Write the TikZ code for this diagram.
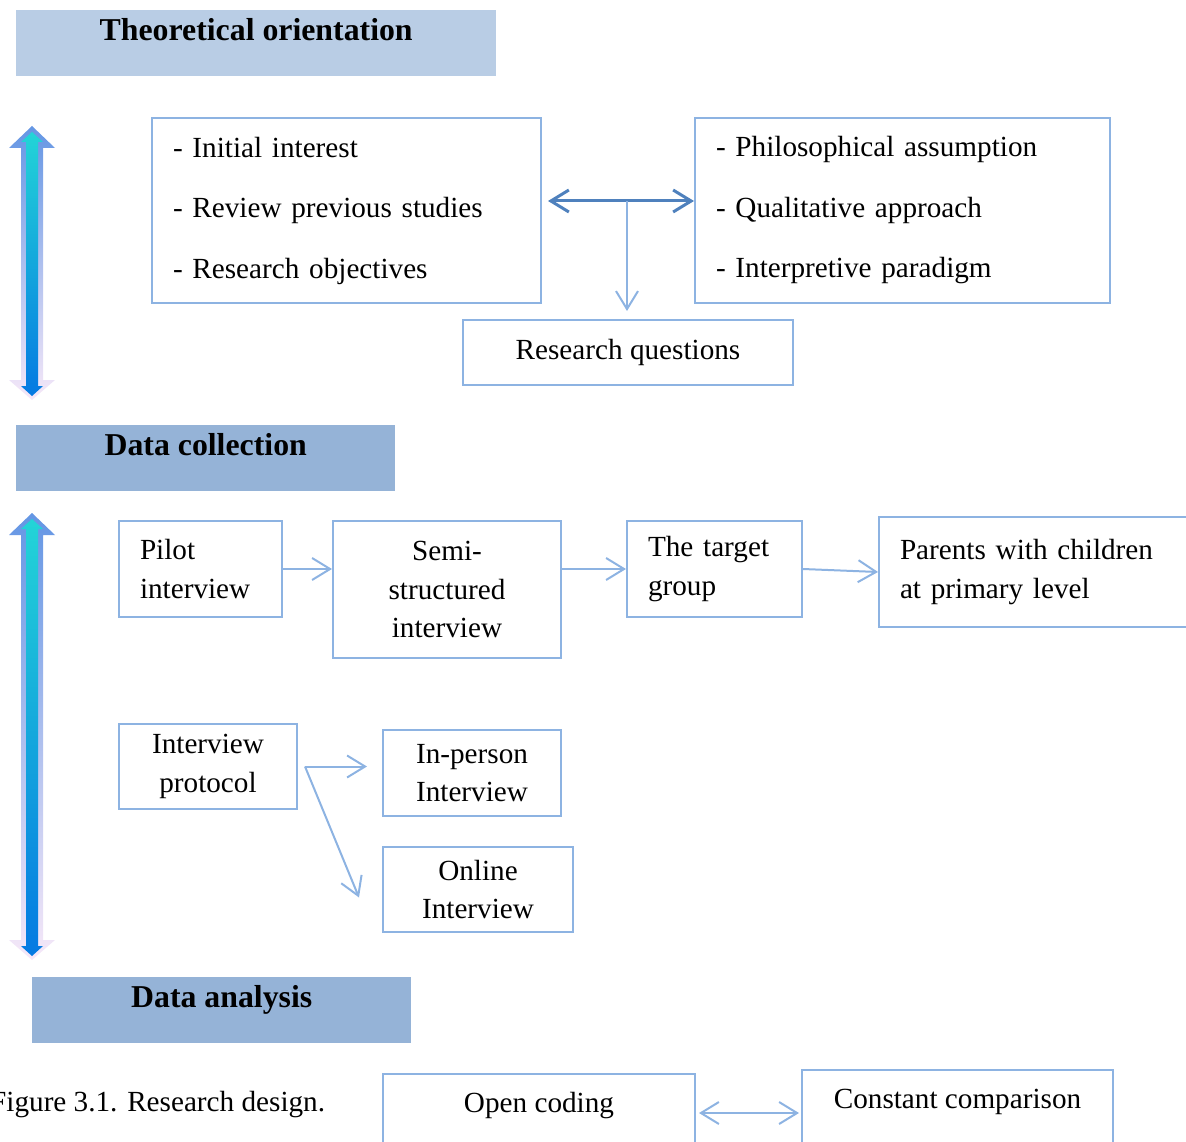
\documentclass[tikz,border=0pt]{standalone}
\usepackage{fontspec}
\setmainfont{Liberation Serif}
\usetikzlibrary{arrows.meta}
\definecolor{boxblue}{RGB}{141,179,226}
\definecolor{darkblue}{RGB}{79,129,189}
\definecolor{bannerlight}{RGB}{185,205,229}
\definecolor{bannerdark}{RGB}{149,179,215}
\definecolor{rimtop}{RGB}{100,150,228}
\definecolor{rimmid}{RGB}{150,195,240}
\definecolor{rimbot}{RGB}{246,232,248}
\definecolor{coretop}{RGB}{35,212,215}
\definecolor{corebot}{RGB}{5,122,226}
\begin{document}
\begin{tikzpicture}[x=1pt, y=-1pt,
    barb/.tip={Straight Barb[length=18pt,width=22pt]},
    box/.style={draw=boxblue, line width=2pt, inner xsep=21pt, inner ysep=0pt, font=\fontsize{29.2}{38.5}\selectfont},
    banner/.style={fill=#1, anchor=north west, minimum width=379pt, inner sep=0pt, text height=30.5pt, text depth=35.5pt, font=\fontsize{31.8}{38}\selectfont\bfseries},
    link/.style={draw=boxblue, line width=2pt, -barb},
    dlink/.style={draw=darkblue, line width=3pt, barb-barb}
    ]
    \useasboundingbox (0,0) rectangle (1186,1142);
    \clip (0,0) rectangle (1186,1142);

    \node[banner=bannerlight, minimum width=480pt] (to) at (16,10) {Theoretical orientation};
    \node[banner=bannerdark] (dc) at (16,425) {Data collection};
    \node[banner=bannerdark] (da) at (32,977) {Data analysis};

    \foreach \ya/\yb in {126/400, 513/960}{
        \shade[top color=rimtop, middle color=rimmid, bottom color=rimbot]
            (32,\ya) -- (55,\ya+22) -- (43,\ya+22) -- (43,\yb-20) -- (55,\yb-20) -- (32,\yb)
            -- (9,\yb-20) -- (21,\yb-20) -- (21,\ya+22) -- (9,\ya+22) -- cycle;
        \shade[top color=coretop, bottom color=corebot]
            (32,\ya+6) -- (43,\ya+16) -- (38,\ya+16) -- (38,\yb-14) -- (43,\yb-14) -- (32,\yb-4)
            -- (21,\yb-14) -- (26,\yb-14) -- (26,\ya+16) -- (21,\ya+16) -- cycle;
    }

    \node[box, text width=347pt, minimum height=185pt, align=left, font=\fontsize{29.2}{60.5}\selectfont] (a) at (346.5,210.5) {- Initial interest\\- Review previous studies\\- Research objectives};
    \node[box, text width=373pt, minimum height=185pt, align=left, font=\fontsize{29.2}{60.5}\selectfont] (b) at (902.5,210.5) {- Philosophical assumption\\- Qualitative approach\\- Interpretive paradigm};
    \node[box, minimum width=330pt, minimum height=65pt] (rq) at (628,352.5) {Research questions};

    \node[box, text width=121pt, minimum height=96pt, align=left] (pilot) at (200.5,569) {Pilot\\interview};
    \node[box, minimum width=228pt, minimum height=137pt, align=center] (semi) at (447,589.5) {Semi-\\structured\\interview};
    \node[box, text width=133pt, minimum height=96pt, align=left] (target) at (714.5,569) {The target\\group};
    \node[box, text width=298pt, minimum height=110pt, align=left] (parents) at (1049,572) {Parents with children\\at primary level};

    \node[box, minimum width=178pt, minimum height=85pt, align=center] (protocol) at (208,766.5) {Interview\\protocol};
    \node[box, minimum width=178pt, minimum height=86pt, align=center] (inperson) at (472,773) {In-person\\Interview};
    \node[box, minimum width=190pt, minimum height=85pt, align=center] (online) at (478,889.5) {Online\\Interview};

    \node[box, anchor=north, minimum width=312pt, text height=38.5pt, text depth=60pt] (open) at (539,1073) {Open coding};
    \node[box, anchor=north, minimum width=311pt, text height=38.5pt, text depth=60pt] (constant) at (957.5,1069) {Constant comparison};
    \node[anchor=base west, inner sep=0pt, font=\fontsize{29.2}{38.5}\selectfont] (cap) at (-10,1111) {Figure 3.1. Research design.};

    \coordinate (split) at (627,201);
    \coordinate (fork) at ([xshift=7pt]protocol.east);
    \coordinate (oc) at (748,1113);

    \draw[dlink, shorten <=6pt] (a.east |- split) -- (b.west |- split);
    \draw[link, shorten >=8pt] (split) -- (split |- rq.north);
    \draw[link] (pilot.east) -- (pilot.east -| semi.west);
    \draw[link] (semi.east |- target.west) -- (target.west);
    \draw[link] (target.east) -- (parents.west);
    \draw[link, shorten >=15pt] (fork) -- (fork -| inperson.west);
    \draw[link] (fork) -- ([xshift=-23pt,yshift=-8pt]online.west);
    \draw[link, barb-barb, shorten <=3pt, shorten >=2pt] (open.east |- oc) -- (constant.west |- oc);

\end{tikzpicture}
\end{document}
